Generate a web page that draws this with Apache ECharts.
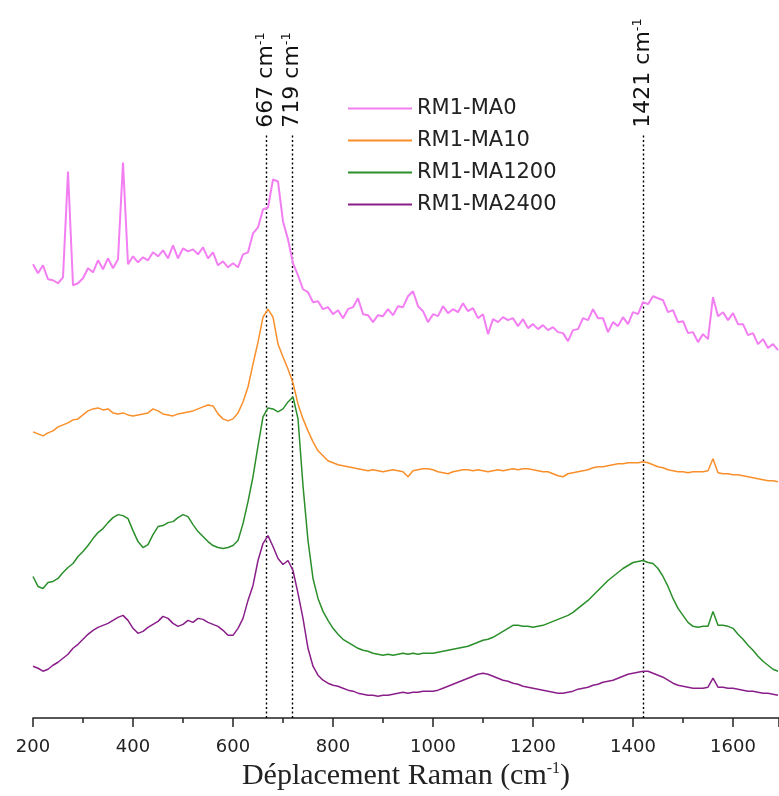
<!DOCTYPE html>
<html>
<head>
<meta charset="utf-8">
<script src="https://cdn.jsdelivr.net/npm/echarts@6/dist/echarts.min.js"></script>
<style>
html,body{margin:0;padding:0;background:#fff;}
#chart{width:779px;height:796px;}
</style>
</head>
<body>
<div id="chart"></div>
<script>
// Raman shift (cm-1)
const shift = [200,210,220,230,240,250,260,270,280,290,300,310,320,330,340,350,360,370,380,390,400,410,420,430,440,450,460,470,480,490,500,510,520,530,540,550,560,570,580,590,600,610,620,630,640,650,660,670,680,690,700,710,720,730,740,750,760,770,780,790,800,810,820,830,840,850,860,870,880,890,900,910,920,930,940,950,960,970,980,990,1000,1010,1020,1030,1040,1050,1060,1070,1080,1090,1100,1110,1120,1130,1140,1150,1160,1170,1180,1190,1200,1210,1220,1230,1240,1250,1260,1270,1280,1290,1300,1310,1320,1330,1340,1350,1360,1370,1380,1390,1400,1410,1420,1430,1440,1450,1460,1470,1480,1490,1500,1510,1520,1530,1540,1550,1560,1570,1580,1590,1600,1610,1620,1630,1640,1650,1660,1670,1680,1690];

// Offset intensities (a.u.)
const ma0 = [455,446,454,440,439,436,442,548,434,436,441,451,447,459,450,461,451,460,557,455,463,457,462,459,467,463,469,461,474,461,471,468,470,465,472,461,467,454,458,452,456,452,465,467,486,492,510,512,540,538,498,480,456,444,430,427,417,418,410,412,405,409,401,410,412,421,405,404,397,404,403,410,404,413,412,423,428,413,408,397,405,403,413,406,410,407,416,408,411,401,405,385,400,397,402,399,401,393,400,391,395,390,394,389,392,387,386,378,389,390,401,399,410,401,401,387,397,393,402,395,407,405,417,415,423,421,419,407,409,397,398,386,387,377,385,380,422,403,407,399,406,395,395,384,386,375,380,371,375,369];
const ma10 = [287,285,283,286,288,292,294,296,299,300,304,308,310,311,309,310,306,305,306,304,303,304,305,306,310,308,305,304,303,305,306,307,308,310,312,314,313,305,300,298,300,306,317,332,355,377,402,410,402,375,362,350,336,315,300,288,277,268,263,258,256,254,253,252,251,250,249,248,249,248,247,248,249,248,247,242,248,249,250,250,249,247,246,245,247,248,249,249,248,249,248,247,248,249,248,249,250,249,250,250,249,248,247,247,245,243,242,245,246,247,248,249,251,252,252,253,254,255,255,256,256,256,257,256,254,252,251,249,248,247,247,246,247,247,247,248,260,246,245,245,244,244,243,242,241,240,239,238,238,237];
const ma1200 = [142,132,130,136,137,140,146,151,155,162,167,173,180,186,190,196,201,204,203,200,188,177,171,174,184,192,193,196,197,201,204,202,194,187,182,177,173,171,170,171,173,178,195,217,242,273,302,311,310,307,310,317,322,300,233,178,140,120,107,98,90,84,79,76,73,70,68,67,65,64,63,64,63,64,65,64,65,64,65,65,65,66,67,68,69,70,71,72,74,76,78,79,81,84,87,90,93,93,92,92,91,92,93,95,97,99,101,103,106,110,114,118,123,128,133,138,142,146,150,153,156,157,158,156,155,150,142,132,120,110,103,96,92,91,92,92,107,93,93,92,90,84,79,73,68,62,57,53,49,47];
const ma2400 = [52,50,47,49,53,56,60,64,70,74,79,84,88,91,93,95,98,101,103,98,90,85,87,91,94,97,102,100,95,92,94,98,96,100,99,96,94,92,88,83,83,90,100,118,133,158,175,183,172,160,154,158,148,125,100,70,52,43,38,35,33,32,30,28,27,25,24,23,23,22,23,23,24,25,26,25,26,26,27,27,27,28,30,32,34,36,38,40,42,44,45,44,42,40,38,37,35,34,32,31,30,29,28,27,26,25,25,26,27,29,30,31,33,34,36,37,38,40,42,44,45,46,47,47,45,43,41,38,35,33,32,31,30,30,30,31,40,31,31,30,30,29,28,27,27,26,25,25,24,23];

const seriesNames = ['RM1-MA0','RM1-MA10','RM1-MA1200','RM1-MA2400'];
const seriesColors = ['#f27ef2','#f98f2a','#2b8f2b','#8a1f8a'];
const bandPositions = [667, 719, 1421];
const xTicks = [200,400,600,800,1000,1200,1400,1600];

const seriesData = [ma0, ma10, ma1200, ma2400];
const lineTop = 586;

const chart = echarts.init(document.getElementById('chart'), null, {renderer:'canvas'});

const series = seriesNames.map((name, i) => ({
  name: name,
  type: 'line',
  symbol: 'none',
  showSymbol: false,
  silent: true,
  z: 3,
  data: shift.map((x, k) => [x, seriesData[i][k]]),
  lineStyle: {color: seriesColors[i], width: i === 0 ? 2 : 1.5},
  itemStyle: {color: seriesColors[i]}
}));

series[3].markLine = {
  silent: true,
  symbol: 'none',
  z: 1,
  label: {show: false},
  lineStyle: {color: '#000', type: [2, 2.5], width: 1.4},
  data: bandPositions.map(b => [{coord: [b, 0]}, {coord: [b, lineTop]}])
};

const option = {
  animation: false,
  backgroundColor: '#fff',
  grid: {left: 33, right: 0, top: 0, bottom: 76, containLabel: false},
  legend: {
    orient: 'vertical',
    left: 343,
    top: 93,
    itemWidth: 64,
    itemHeight: 14,
    itemGap: 11,
    icon: 'path://M0,6 L62,6 L62,8 L0,8 Z',
    data: seriesNames,
    textStyle: {fontFamily: 'DejaVu Sans', fontSize: 21, color: '#222', padding: [0,0,0,0]}
  },
  xAxis: {
    type: 'value',
    min: 200,
    max: 1692,
    interval: 200,
    name: 'Déplacement Raman (cm{s|-1})',
    nameLocation: 'middle',
    nameGap: 40,
    nameTextStyle: {
      fontFamily: 'Liberation Serif', fontSize: 30, color: '#222',
      rich: {s: {fontFamily: 'Liberation Serif', fontSize: 16, color: '#222', verticalAlign: 'top', padding: [0,0,13,0]}}
    },
    axisLine: {show: true, lineStyle: {color: '#222', width: 1.5}},
    axisTick: {show: true, length: 9, lineStyle: {color: '#222', width: 1.5}},
    minorTick: {show: true, splitNumber: 2, length: 5, lineStyle: {color: '#222', width: 1.5}},
    splitLine: {show: false},
    axisLabel: {
      margin: 20, fontFamily: 'DejaVu Sans', fontSize: 18, color: '#222',
      showMaxLabel: false,
      formatter: v => (xTicks.indexOf(v) >= 0 ? String(v) : '')
    }
  },
  yAxis: {
    type: 'value', min: 0, max: 720, show: false
  },
  series: series
};
chart.setOption(option);

function placeLabels() {
  const g = bandPositions.map(b => {
    const p = chart.convertToPixel({xAxisIndex: 0, yAxisIndex: 0}, [b, lineTop]);
    return {
      type: 'text',
      x: p[0],
      y: p[1] - 6,
      rotation: Math.PI / 2,
      silent: true,
      style: {
        text: b + ' cm{s|-1}',
        fontFamily: 'DejaVu Sans',
        fontSize: 22,
        fill: '#111',
        align: 'left',
        verticalAlign: 'middle',
        rich: {s: {fontFamily: 'DejaVu Sans', fontSize: 13, fill: '#111', verticalAlign: 'top', padding: [0,0,11,0]}}
      }
    };
  });
  chart.setOption({graphic: g});
}
placeLabels();
</script>
</body>
</html>
